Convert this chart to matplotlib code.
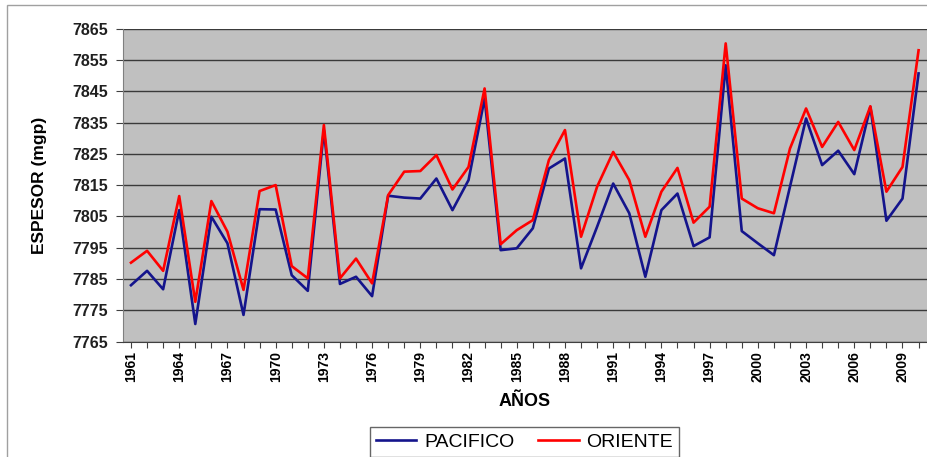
import numpy as np
import matplotlib
matplotlib.use('Agg')
import matplotlib.pyplot as plt
from matplotlib.patches import Rectangle

plt.rcParams['font.family'] = ['Liberation Sans', 'DejaVu Sans']

#datos
anios = list(range(1961, 2011))
pacifico = [7783.0, 7787.6, 7781.7, 7807.0, 7770.6, 7804.9, 7796.4, 7773.5, 7807.3, 7807.2,
            7786.2, 7781.2, 7832.6, 7783.4, 7785.7, 7779.5, 7811.6, 7811.0, 7810.7, 7817.1,
            7807.0, 7816.6, 7842.7, 7794.2, 7794.8, 7801.2, 7820.3, 7823.5, 7788.4, 7801.7,
            7815.5, 7806.0, 7785.7, 7807.0, 7812.3, 7795.5, 7798.3, 7853.3, 7800.3, 7796.4,
            7792.6, 7814.5, 7836.3, 7821.4, 7826.0, 7818.5, 7840.0, 7803.6, 7810.7, 7850.7]
oriente = [7790.2, 7794.0, 7787.6, 7811.5, 7777.7, 7809.9, 7800.1, 7781.5, 7813.1, 7815.0,
           7789.1, 7785.2, 7834.2, 7785.2, 7791.5, 7783.6, 7811.8, 7819.3, 7819.5, 7824.6,
           7813.6, 7820.8, 7845.9, 7796.1, 7800.6, 7803.8, 7823.0, 7832.6, 7798.5, 7814.5,
           7825.6, 7816.6, 7798.5, 7812.9, 7820.5, 7803.0, 7808.1, 7860.3, 7810.7, 7807.6,
           7806.0, 7826.7, 7839.5, 7827.2, 7835.2, 7826.2, 7840.2, 7812.9, 7820.8, 7858.1]
yticks = list(range(7765, 7866, 10))

fig = plt.figure(figsize=(9.28, 4.57), dpi=100)
ax = fig.add_axes([0.1325, 0.2527, 0.866, 0.6845])
ax.set_facecolor('#c0c0c0')

ax.plot(anios, pacifico, color='#14148c', lw=1.9, label='PACIFICO')
ax.plot(anios, oriente, color='#ff0000', lw=1.9, label='ORIENTE')

ax.set_xlim(1960.5, 2010.5)
ax.set_ylim(7765, 7865)
ax.set_yticks(yticks)
ax.grid(axis='y', color='#3a3a3a', lw=1.0)
ax.set_axisbelow(True)

ax.set_xticks(anios)
ax.set_xticklabels([str(a) if (a - 1961) % 3 == 0 else '' for a in anios],
                   rotation=90, fontsize=10, fontweight='bold')
ax.tick_params(axis='x', length=4, width=0.8, color='#404040', pad=3)
ax.tick_params(axis='y', length=5, width=0.8, color='#404040', pad=6, labelsize=11.5)
for t in ax.get_yticklabels():
    t.set_fontweight('bold')
    t.set_color('#202020')

for s in ['top', 'right']:
    ax.spines[s].set_visible(False)
ax.spines['left'].set_color('#808080')
ax.spines['bottom'].set_color('#404040')

ax.set_ylabel('ESPESOR (mgp)', fontsize=12.5, fontweight='bold', labelpad=18)
ax.set_xlabel('AÑOS', fontsize=13, fontweight='bold', labelpad=8)

fig.legend(loc='upper center', bbox_to_anchor=(0.565, 0.065), ncol=2, fontsize=14,
           frameon=True, fancybox=False, edgecolor='#404040', handlelength=2.1,
           handletextpad=0.4, columnspacing=1.2, borderpad=0.3, borderaxespad=0)

#marco exterior
fig.patches.append(Rectangle((7 / 928, -0.05), 1.0, 1 - 5 / 457 + 0.05, transform=fig.transFigure,
                             fill=False, edgecolor='#a0a0a0', lw=1.0))

fig.savefig('out.png', dpi=100)
